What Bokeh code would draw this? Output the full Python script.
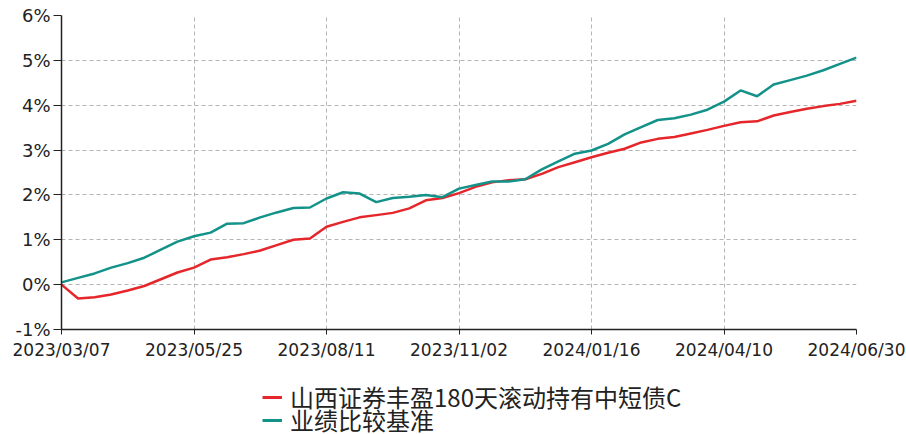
from bokeh.plotting import figure
from bokeh.layouts import column
from bokeh.models import Range1d, FixedTicker, Legend, LegendItem
from bokeh.embed import file_html
from bokeh.resources import INLINE

tick_labels = ["2023/03/07", "2023/05/25", "2023/08/11", "2023/11/02",
               "2024/01/16", "2024/04/10", "2024/06/30"]
tick_pos = [0, 8, 16, 24, 32, 40, 48]

fund_name = "山西证券丰盈180天滚动持有中短债C"
bench_name = "业绩比较基准"

fund = [0.00, -0.31, -0.28, -0.22, -0.13, -0.03, 0.12, 0.27, 0.38, 0.56,
        0.61, 0.68, 0.76, 0.88, 1.00, 1.03, 1.29, 1.40, 1.50, 1.55,
        1.60, 1.70, 1.88, 1.93, 2.04, 2.18, 2.28, 2.33, 2.35, 2.47,
        2.62, 2.73, 2.84, 2.94, 3.03, 3.17, 3.25, 3.29, 3.37, 3.45,
        3.54, 3.62, 3.64, 3.77, 3.85, 3.92, 3.98, 4.03, 4.10]

bench = [0.05, 0.15, 0.25, 0.38, 0.48, 0.60, 0.78, 0.96, 1.08, 1.16,
         1.36, 1.37, 1.50, 1.61, 1.71, 1.72, 1.92, 2.06, 2.03, 1.84,
         1.93, 1.96, 2.00, 1.95, 2.14, 2.22, 2.30, 2.30, 2.35, 2.57,
         2.75, 2.92, 2.99, 3.14, 3.35, 3.51, 3.67, 3.71, 3.79, 3.90,
         4.08, 4.33, 4.20, 4.46, 4.56, 4.66, 4.78, 4.92, 5.06]

y_ticks = [-1, 0, 1, 2, 3, 4, 5, 6]

RED = "#E5262A"
TEAL = "#13928A"

idx = list(range(len(fund)))

p = figure(width=906, height=370, output_backend="svg", toolbar_location=None,
           x_range=Range1d(0, 48), y_range=Range1d(-1, 6),
           min_border_left=61, min_border_right=50, min_border_top=15,
           min_border_bottom=41)
p.outline_line_color = None
p.background_fill_color = "white"

p.line(idx, fund, line_color=RED, line_width=2.5)
p.line(idx, bench, line_color=TEAL, line_width=2.5)

p.xaxis.ticker = FixedTicker(ticks=tick_pos)
p.xaxis.major_label_overrides = {t: l for t, l in zip(tick_pos, tick_labels)}
p.yaxis.ticker = FixedTicker(ticks=y_ticks)
p.yaxis.major_label_overrides = {t: f"{t}%" for t in y_ticks}

for ax in (p.xaxis[0], p.yaxis[0]):
    ax.axis_line_color = "#222222"
    ax.axis_line_width = 1.5
    ax.major_tick_line_color = "#222222"
    ax.major_tick_in = 0
    ax.minor_tick_line_color = None
    ax.major_label_text_font = "DejaVu Sans"
    ax.major_label_text_color = "#222222"
p.xaxis.major_tick_out = 5
p.yaxis.major_tick_out = 8
p.xaxis.major_label_text_font_size = "17px"
p.yaxis.major_label_text_font_size = "18px"
p.xaxis.major_label_standoff = 5
p.yaxis.major_label_standoff = 3

for g in (p.xgrid[0], p.ygrid[0]):
    g.grid_line_color = "#b4b4b4"
    g.grid_line_dash = "4 3"
    g.grid_line_width = 1
p.xgrid.ticker = FixedTicker(ticks=tick_pos)
p.ygrid.ticker = FixedTicker(ticks=y_ticks)

# legend strip below the chart (its lines sit outside the strip's visible range)
lg = figure(width=906, height=64, output_backend="svg", toolbar_location=None,
            x_range=Range1d(0, 48), y_range=Range1d(100, 101),
            x_axis_location=None, y_axis_location=None,
            min_border_left=0, min_border_right=0, min_border_top=0,
            min_border_bottom=0)
lg.grid.visible = False
lg.outline_line_color = None
lr_fund = lg.line(idx, fund, line_color=RED, line_width=3)
lr_bench = lg.line(idx, bench, line_color=TEAL, line_width=3)


def make_legend(label, renderer, loc):
    lgd = Legend(items=[LegendItem(label=label, renderers=[renderer])],
                 location=loc, orientation="vertical")
    lgd.margin = 0
    lgd.padding = 0
    lgd.spacing = 0
    lgd.border_line_alpha = 0
    lgd.background_fill_alpha = 0
    lgd.label_text_font = "Noto Sans CJK SC"
    lgd.label_text_font_size = "24px"
    lgd.label_text_color = "#222222"
    lgd.glyph_width = 20
    lgd.glyph_height = 20
    lgd.label_height = 20
    lgd.label_standoff = 8
    return lgd


lg.add_layout(make_legend(fund_name, lr_fund, (201, 20)), "center")
lg.add_layout(make_legend(bench_name, lr_bench, (201, -3)), "center")

layout = column(p, lg, spacing=0)
open("out.html", "w").write(file_html(layout, INLINE))
